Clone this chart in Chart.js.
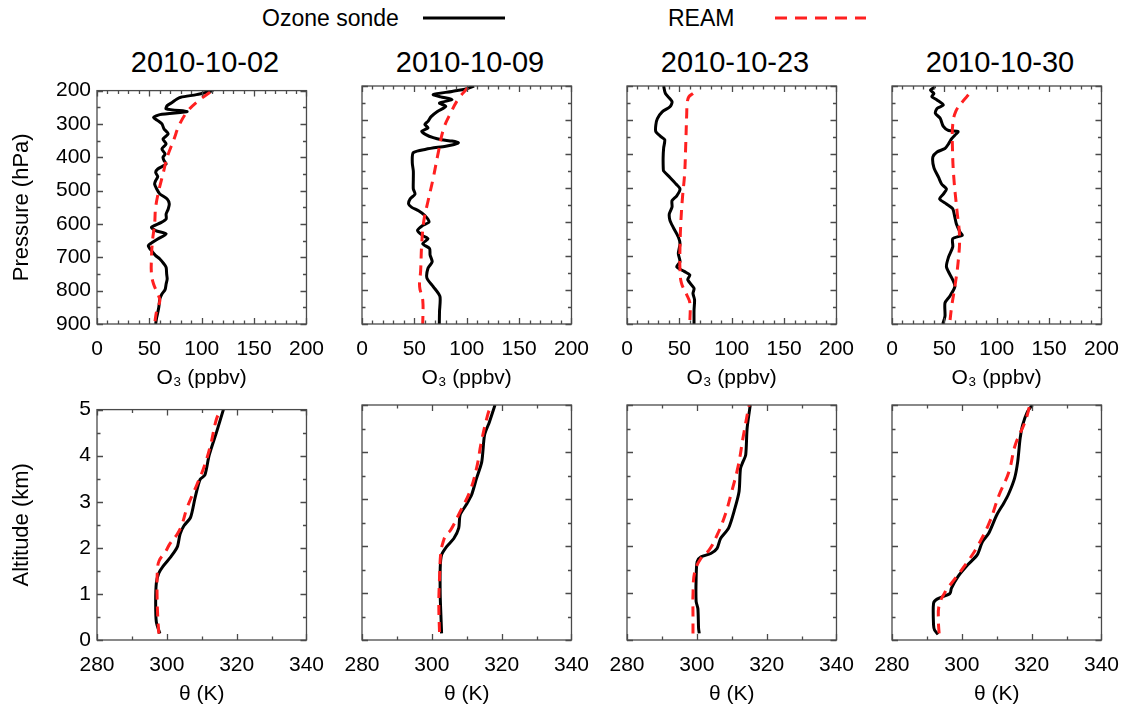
<!DOCTYPE html>
<html>
<head>
<meta charset="utf-8">
<script src="https://cdn.jsdelivr.net/npm/chart.js@4.4.1/dist/chart.umd.min.js"></script>
<style>
  html, body { margin: 0; padding: 0; background: #fff; }
  #fig { position: relative; width: 1137px; height: 713px; overflow: hidden;
         font-family: "Liberation Sans", Arial, sans-serif; color: #000; }
  #fig canvas { position: absolute; }
  .date { position: absolute; width: 216px; text-align: center; font-size: 29px; line-height: 29px; top: 48px; }
  .leg  { position: absolute; font-size: 23px; line-height: 24px; top: 6px; }
</style>
</head>
<body>
<div id="fig">
  <div class="leg" style="left:262px">Ozone sonde</div>
  <div class="leg" style="left:668px">REAM</div>
  <svg style="position:absolute;left:0;top:0" width="1137" height="40">
    <line x1="423" y1="18" x2="505" y2="18" stroke="#000" stroke-width="3"/>
    <line x1="775" y1="18" x2="866" y2="18" stroke="#ff2020" stroke-width="3" stroke-dasharray="12 8"/>
  </svg>
</div>
<script>
// ---- launch dates and axis ticks ----
const dates = ['2010-10-02', '2010-10-09', '2010-10-23', '2010-10-30'];
const o3Ticks = [0, 50, 100, 150, 200];
const presTicks = [200, 300, 400, 500, 600, 700, 800, 900];
const thetaTicks = [280, 300, 320, 340];
const altTicks = [0, 1, 2, 3, 4, 5];

// ---- ozone profiles: [pressure hPa, O3 ppbv] ----
const sondeO3_1002 = [[200,111],[205,105],[212,95],[220,80],[226,76],[235,72],[245,67],[255,66],[263,86],[272,60],[281,54],[290,58],[300,62],[315,64],[330,68],[345,63],[360,66],[375,62],[390,65],[400,63],[410,64],[420,66],[435,58],[445,56],[458,58],[470,56],[480,55],[495,57],[510,60],[525,67],[540,69],[555,68],[570,66],[585,66],[596,61],[610,52],[620,56],[630,66],[645,58],[655,53],[665,49],[680,52],[695,56],[705,60],[720,64],[730,66],[750,66.5],[765,67],[780,66],[797,65],[810,62],[825,60],[850,59],[866,58],[880,57],[900,56]];
const reamO3_1002 = [[205,108],[230,97],[260,87],[300,79],[350,73],[400,67],[450,63],[500,59],[550,56],[600,55],[650,53],[700,52],[750,52],[780,54],[810,58],[830,60],[860,57],[900,55]];

const sondeO3_1009 = [[200,107],[208,100],[216,86],[225,68],[232,75],[240,86],[250,74],[260,80],[275,72],[290,66],[304,63],[313,60],[323,63],[333,57],[343,61],[352,68],[358,76],[362,86],[367,92],[372,88],[377,80],[386,61],[396,49],[425,48],[450,49],[474,49],[503,49],[518,50.6],[532,46],[547,44.5],[557,47.5],[567,54],[581,60],[600,64],[610,58],[625,53],[640,58],[649,63],[664,58],[678,64.5],[697,65],[717,67],[736,63],[765,62],[790,68],[819,74.4],[863,74],[900,73.8]];
const reamO3_1009 = [[205,101],[238,92],[277,85],[325,78],[393,73],[471,68],[539,63],[597,59],[665,57],[743,56],[790,55],[830,58],[900,58]];

const sondeO3_1023 = [[200,35],[222,36.7],[246,43],[261,41],[276,33.6],[296,29],[315,27.5],[334,27.5],[348,32],[358,36],[382,35],[410,34.5],[440,34.6],[450,35],[469,41],[489,47],[503,50.6],[523,47.5],[537,43],[556,43],[576,40.4],[595,41],[615,44],[644,49],[664,50.6],[693,49],[717,50.6],[732,47.5],[746,55],[756,60],[770,58],[795,64],[810,63],[829,64.5],[860,64],[900,64]];
const reamO3_1023 = [[222,63],[232,59],[250,57.5],[283,57],[380,56],[459,55],[527,53],[595,51.5],[673,50.6],[741,50.6],[780,52],[814,57],[838,60],[900,60]];

const sondeO3_1030 = [[200,41],[205,40],[212,36.7],[222,40],[231,38],[241,43],[256,49],[266,43],[280,41.4],[295,46],[319,49],[331,54],[334,63],[345,60],[355,57],[370,54],[384,50.6],[394,43],[409,39],[440,40],[469,44.5],[489,47.5],[503,52],[518,49],[532,45.4],[547,52],[561,58],[586,60],[605,61.4],[630,65],[639,67],[649,58],[673,58],[703,54],[732,52],[770,58],[790,60],[819,55],[838,50.6],[877,50.6],[900,48.5]];
const reamO3_1030 = [[226,73],[245,67.6],[274,61],[313,58],[380,57.7],[469,59],[566,62],[644,64.5],[722,63],[790,60],[848,57],[900,55]];

// ---- potential temperature profiles: [altitude km, theta K] ----
const sondeTh_1002 = [[0.14,298],[0.39,297],[0.81,296.8],[1.24,297],[1.45,297.7],[1.6,298.9],[1.81,301.2],[2.02,303],[2.3,303.8],[2.48,304.9],[2.66,306.8],[3.09,308.1],[3.48,309.5],[3.58,310.9],[4.0,312.1],[4.5,314.2],[5.0,316.2]];
const reamTh_1002 = [[0.14,297.7],[0.5,297.4],[1.0,297.2],[1.5,297.3],[1.72,297.8],[1.9,299.5],[2.09,300.9],[2.3,303],[2.5,304.3],[2.87,305.8],[3.37,308.6],[3.72,310.5],[4.22,312.5],[4.79,314.2],[5.0,315.5]];

const sondeTh_1009 = [[0.14,302.8],[0.53,302.6],[0.96,302.4],[1.53,302.4],[1.81,302.8],[1.99,304.3],[2.16,306.3],[2.38,307.7],[2.66,308.1],[2.87,309.8],[3.09,311.4],[3.44,312.8],[3.79,314.3],[4.36,315.1],[4.64,316.5],[5.0,318.1]];
const reamTh_1009 = [[0.17,302.2],[0.74,302],[1.31,302.2],[1.88,302.6],[2.1,303.3],[2.23,304],[2.34,305.4],[2.73,308.1],[3.16,310.9],[3.65,312.8],[4.22,314.2],[4.79,316],[5.0,317]];

const sondeTh_1023 = [[0.14,300.7],[0.25,300.5],[0.67,300.3],[0.82,299.8],[1.31,299.8],[1.67,300.1],[1.77,301.2],[1.84,304],[1.95,305.8],[2.16,306.8],[2.38,309.1],[2.8,310.9],[3.16,312.1],[3.65,312.5],[3.79,313.2],[3.94,314],[4.5,314.4],[5.0,315.3]];
const reamTh_1023 = [[0.14,298.9],[0.53,298.9],[0.96,298.9],[1.45,299.4],[1.74,301.2],[1.91,303.5],[2.23,305.8],[2.66,308.1],[3.16,310],[3.72,311.9],[4.29,313.2],[4.86,314.6],[5.0,315]];

const sondeTh_1030 = [[0.12,293.2],[0.21,292.2],[0.32,291.9],[0.78,291.9],[0.87,292.9],[0.99,296.6],[1.1,297],[1.35,298.9],[1.6,301.7],[1.81,304.4],[2.09,305.9],[2.27,307.7],[2.66,310],[2.91,312],[3.09,313.3],[3.44,315.1],[3.79,316],[4.29,316.7],[4.57,317.4],[4.86,318.8],[5.0,320.2]];
const reamTh_1030 = [[0.14,293.5],[0.39,293.3],[0.74,293.5],[1.03,295.3],[1.31,298.1],[1.67,301.7],[2.02,304.7],[2.52,308],[3.09,310.7],[3.58,313.5],[4.15,315.3],[4.64,318.1],[5.0,319.5]];

const ozoneSets = [[sondeO3_1002, reamO3_1002], [sondeO3_1009, reamO3_1009], [sondeO3_1023, reamO3_1023], [sondeO3_1030, reamO3_1030]];
const thetaSets = [[sondeTh_1002, reamTh_1002], [sondeTh_1009, reamTh_1009], [sondeTh_1023, reamTh_1023], [sondeTh_1030, reamTh_1030]];

// ---- layout ----
Chart.defaults.font.family = '"Liberation Sans", Arial, sans-serif';
Chart.defaults.color = '#000';
const fig = document.getElementById('fig');
const PANEL_W = 216, COL_STEP = 265, LEFT0 = 97;
const AREAS = [{ top: 86, h: 238 }, { top: 405, h: 235 }];
const AX_W = 90, AX_H = 70, PAD_T = 14, PAD_R = 24;

// Box around the plot area with inward-pointing major/minor ticks on all sides
const frameTicks = {
  id: 'frameTicks',
  afterDatasetsDraw(chart, args, opts) {
    const { ctx, chartArea: a, scales: { x, y } } = chart;
    ctx.save();
    ctx.strokeStyle = opts.color;
    ctx.lineWidth = 1.3;
    ctx.strokeRect(a.left, a.top, a.right - a.left, a.bottom - a.top);
    ctx.beginPath();
    const nx = Math.round((x.max - x.min) / opts.xMinor);
    for (let i = 0; i <= nx; i++) {
      const v = x.min + i * opts.xMinor;
      const len = Math.abs(v / opts.xMajor - Math.round(v / opts.xMajor)) < 1e-6 ? 6 : 3.5;
      const px = Math.round(x.getPixelForValue(v)) + 0.5;
      ctx.moveTo(px, a.bottom); ctx.lineTo(px, a.bottom - len);
      ctx.moveTo(px, a.top); ctx.lineTo(px, a.top + len);
    }
    const ny = Math.round((y.max - y.min) / opts.yMinor);
    for (let i = 0; i <= ny; i++) {
      const v = y.min + i * opts.yMinor;
      const len = Math.abs(v / opts.yMajor - Math.round(v / opts.yMajor)) < 1e-6 ? 6 : 3.5;
      const py = Math.round(y.getPixelForValue(v)) + 0.5;
      ctx.moveTo(a.left, py); ctx.lineTo(a.left + len, py);
      ctx.moveTo(a.right, py); ctx.lineTo(a.right - len, py);
    }
    ctx.stroke();
    ctx.restore();
  }
};

function makePanel(col, row, sonde, ream) {
  const area = AREAS[row];
  const isOzone = row === 0;
  const L = LEFT0 + col * COL_STEP;
  const w = AX_W + PANEL_W + PAD_R, h = PAD_T + area.h + AX_H;
  const cv = document.createElement('canvas');
  cv.width = w; cv.height = h;
  cv.style.width = w + 'px'; cv.style.height = h + 'px';
  cv.style.left = (L - AX_W) + 'px'; cv.style.top = (area.top - PAD_T) + 'px';
  fig.appendChild(cv);

  const toPts = arr => arr.map(([v, k]) => ({ x: k, y: v }));
  const xt = isOzone ? o3Ticks : thetaTicks;
  const yt = isOzone ? presTicks : altTicks;

  new Chart(cv, {
    type: 'scatter',
    data: {
      datasets: [
        { label: 'REAM', data: toPts(ream), showLine: true, borderColor: '#ff2020', borderWidth: 3,
          borderDash: [10, 7], pointRadius: 0, tension: 0.4, fill: false },
        { label: 'Ozone sonde', data: toPts(sonde), showLine: true, borderColor: '#000', borderWidth: 3,
          pointRadius: 0, tension: 0.25, fill: false }
      ]
    },
    options: {
      responsive: false, animation: false, events: [],
      layout: { padding: { top: PAD_T, right: PAD_R, left: 0, bottom: 0 } },
      plugins: {
        legend: { display: false }, tooltip: { enabled: false },
        frameTicks: isOzone
          ? { color: '#4a4a4a', xMinor: 10, xMajor: 50, yMinor: 50, yMajor: 100 }
          : { color: '#4a4a4a', xMinor: 10, xMajor: 20, yMinor: 0.5, yMajor: 1 }
      },
      scales: {
        x: {
          type: 'linear', min: xt[0], max: xt[xt.length - 1],
          grid: { display: false, drawTicks: false }, border: { display: false },
          afterBuildTicks: s => { s.ticks = xt.map(v => ({ value: v })); },
          afterFit: s => { s.height = AX_H; },
          ticks: { padding: 13, font: { size: 21 }, autoSkip: false, maxRotation: 0 },
          title: { display: true, text: isOzone ? 'O₃ (ppbv)' : 'θ (K)', font: { size: 21 }, padding: { top: 0, bottom: 3 } }
        },
        y: {
          type: 'linear', min: yt[0], max: yt[yt.length - 1], reverse: isOzone,
          grid: { display: false, drawTicks: false }, border: { display: false },
          afterBuildTicks: s => { s.ticks = yt.map(v => ({ value: v })); },
          afterFit: s => { s.width = AX_W; },
          ticks: { display: col === 0, padding: 6, font: { size: 21 }, autoSkip: false },
          title: { display: col === 0, text: isOzone ? 'Pressure (hPa)' : 'Altitude (km)', font: { size: 22 }, padding: { top: 2, bottom: 0 } }
        }
      }
    },
    plugins: [frameTicks]
  });
}

dates.forEach((d, i) => {
  const t = document.createElement('div');
  t.className = 'date';
  t.style.left = (LEFT0 + i * COL_STEP) + 'px';
  t.textContent = d;
  fig.appendChild(t);
  makePanel(i, 0, ozoneSets[i][0], ozoneSets[i][1]);
  makePanel(i, 1, thetaSets[i][0], thetaSets[i][1]);
});
</script>
</body>
</html>
